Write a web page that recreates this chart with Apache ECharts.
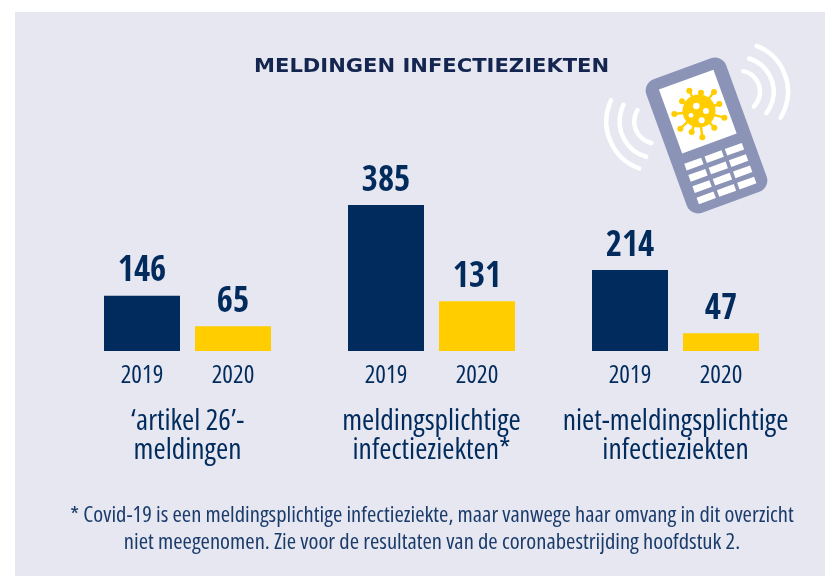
<!DOCTYPE html>
<html><head><meta charset="utf-8">
<style>html,body{margin:0;padding:0;background:#fff}#c{width:825px;height:576px}</style>
<script src="https://cdn.jsdelivr.net/npm/echarts@6/dist/echarts.min.js"></script>
</head><body><div id="c"></div>
<script>
const chartTitle = 'MELDINGEN INFECTIEZIEKTEN';
const years = ['2019', '2020'];
const groups = ["‘artikel 26’-\nmeldingen", 'meldingsplichtige\ninfectieziekten*', 'niet-meldingsplichtige\ninfectieziekten'];
const values2019 = [146, 385, 214];
const values2020 = [65, 131, 47];
const footnote = '* Covid-19 is een meldingsplichtige infectieziekte, maar vanwege haar omvang in dit overzicht\nniet meegenomen. Zie voor de resultaten van de coronabestrijding hoofdstuk 2.';

const NAVY = '#002b5c', YELLOW = '#ffcd00', BG = '#e6e7f1', PHONE = '#8b94b6';
const FONT = '"Open Sans"';
const grids = [], xAxes = [], yAxes = [], series = [];
groups.forEach((g, i) => {
  grids.push({ left: 96.5 + 244 * i, width: 182, top: 161.5, height: 189.5 });
  xAxes.push({ type: 'category', gridIndex: i, data: years,
    axisLine: { show: false }, axisTick: { show: false },
    axisLabel: { color: NAVY, fontStyle: 'condensed', fontFamily: FONT, fontSize: 25, margin: 12 },
    name: g, nameLocation: 'middle', nameGap: 56,
    nameTextStyle: { color: NAVY, fontStyle: 'condensed', fontFamily: FONT, fontSize: 29.5, lineHeight: 29 } });
  yAxes.push({ type: 'value', gridIndex: i, min: 0, max: 500, show: false, splitLine: { show: false } });
  series.push({ type: 'bar', xAxisIndex: i, yAxisIndex: i, barWidth: 76, silent: true,
    data: [ { value: values2019[i], itemStyle: { color: NAVY } }, { value: values2020[i], itemStyle: { color: YELLOW } } ],
    label: { show: true, position: 'top', distance: 6, color: NAVY, fontFamily: '"Open Sans Condensed"', fontSize: 35, fontWeight: 'bold' } });
});

const rad = d => d * Math.PI / 180;
const arc = (cx, cy, r, a, b) => ({ type: 'arc', silent: true, shape: { cx, cy, r, startAngle: rad(a), endAngle: rad(b), clockwise: true },
  style: { stroke: '#fff', lineWidth: 4.5, lineCap: 'round', fill: null } });
const keys = [];
[-21.6, 0, 21.6].forEach(x => [22.5, 34.5, 46.5, 58.5].forEach(y =>
  keys.push({ type: 'rect', shape: { x: x - 9, y: y - 3.5, width: 18, height: 7 }, style: { fill: '#fff' } })));
const z = (x, y) => [590 + x / 3, 30 + y / 3];
const vc = z(327, 243);
const spikes = [[298,182],[333,188],[372,186],[388,222],[403,263],[373,293],[337,322],[305,306],[271,296],[253,252],[276,214]];
const holes = [[319,228,3.3],[348,243,3],[303,256,2.4],[335,271,3]];
const virus = [];
spikes.forEach(s => { const p = z(s[0], s[1]);
  virus.push({ type: 'line', shape: { x1: vc[0], y1: vc[1], x2: p[0], y2: p[1] }, style: { stroke: YELLOW, lineWidth: 2.4 } });
  virus.push({ type: 'circle', shape: { cx: p[0], cy: p[1], r: 3 }, style: { fill: YELLOW } }); });
virus.push({ type: 'circle', shape: { cx: vc[0], cy: vc[1], r: 16.5 }, style: { fill: YELLOW } });
holes.forEach(h => { const p = z(h[0], h[1]); virus.push({ type: 'circle', shape: { cx: p[0], cy: p[1], r: h[2] }, style: { fill: '#fff' } }); });

const graphic = [
  { type: 'rect', z: -10, silent: true, shape: { x: 15, y: 12, width: 810, height: 564 }, style: { fill: BG } },
  { type: 'text', x: 254, y: 56.5, scaleX: 1.054, style: { text: chartTitle, fill: '#14264f', font: 'bold 20px "DejaVu Sans"', letterSpacing: 1 } },
  { type: 'text', x: 432, y: 529, style: { text: footnote, fill: '#1b3c6b', fontStyle: 'condensed', fontFamily: FONT, fontSize: 22.6, align: 'center', verticalAlign: 'middle', lineHeight: 27 } },
  arc(739, 91.7, 21, -78, 45), arc(739, 91.7, 34.7, -73, 38), arc(739, 91.7, 49, -69, 32),
  arc(656.3, 121.5, 22, 103, 211), arc(656.3, 121.5, 36.7, 106, 207), arc(656.3, 121.5, 50, 110, 205),
  { type: 'group', x: 706.5, y: 135.5, rotation: rad(20), silent: true, children: [
    { type: 'rect', shape: { x: -42.5, y: -71, width: 85, height: 142, r: 12 }, style: { fill: PHONE } },
    { type: 'rect', shape: { x: -29, y: -59.5, width: 58, height: 68 }, style: { fill: '#fff' } }
  ].concat(keys) },
  { type: 'group', silent: true, children: virus }
];

const chart = echarts.init(document.getElementById('c'), null, { renderer: 'canvas' });
chart.setOption({ animation: false, backgroundColor: '#fff', grid: grids, xAxis: xAxes, yAxis: yAxes, series, graphic });
</script></body></html>
